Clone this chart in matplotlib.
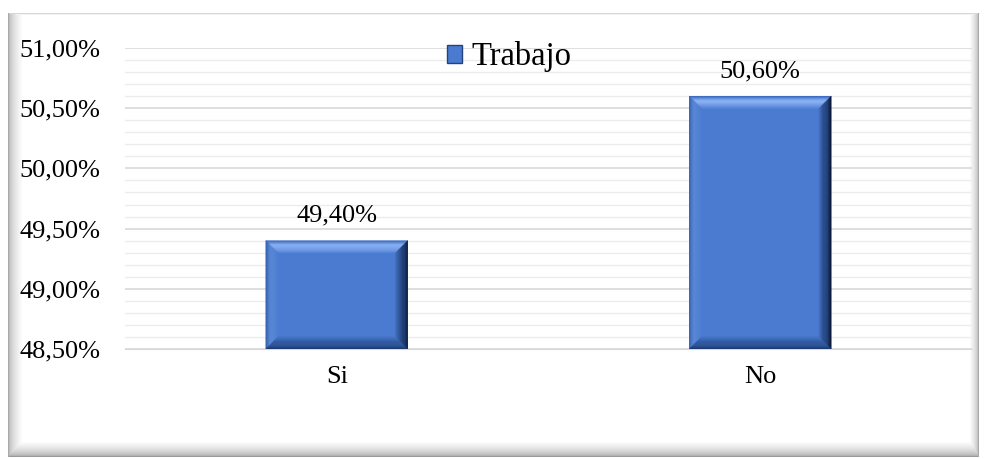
import matplotlib
matplotlib.use("Agg")
import numpy as np
import matplotlib.pyplot as plt
from matplotlib.patches import Polygon
from matplotlib.ticker import MultipleLocator, FuncFormatter
from matplotlib.colors import to_rgb

categories = ["Si", "No"]
values = [49.40, 50.60]
legend_label = "Trabajo"

W, H = 984, 459
fig = plt.figure(figsize=(W/100, H/100), dpi=100)
fig.patch.set_facecolor("white")

# ---- beveled outer frame as background image ----
yy, xx = np.mgrid[0:H, 0:W].astype(float)
x0f, x1f, y0f, y1f = 8.0, 978.0, 13.0, 456.0
wl, wr, wt, wb = 14.0, 9.0, 2.0, 15.0
dl = (xx - x0f) / wl
dr = (x1f - xx) / wr
dt = (yy - y0f) / wt
db = (y1f - yy) / wb
stack = np.stack([dl, dr, dt, db])
side = np.argmin(stack, axis=0)
t = np.clip(np.min(stack, axis=0), 0, 1)
base = np.array([0.66, 0.66, 0.84, 0.60])[side]
shade = base + (1 - base) * np.sqrt(t)
inside = (xx >= x0f) & (xx <= x1f) & (yy >= y0f) & (yy <= y1f)
img = np.where(inside, shade, 1.0)
rgb = np.dstack([img, img, img])
fig.figimage(rgb, xo=0, yo=0, origin="upper", zorder=-30)

ax = fig.add_axes([125/W, 1 - 349/H, (972 - 125)/W, (349 - 48)/H])
ax.set_facecolor("none")
ax.set_ylim(48.5, 51.0)
ax.set_xlim(-0.5, 1.5)
ax.yaxis.set_major_locator(MultipleLocator(0.5))
ax.yaxis.set_minor_locator(MultipleLocator(0.1))
ax.yaxis.set_major_formatter(FuncFormatter(lambda v, p: f"{v:.2f}".replace(".", ",") + "%"))
ax.grid(True, which="major", axis="y", color="#d9d9d9", lw=1.2, zorder=0)
ax.grid(True, which="minor", axis="y", color="#ececec", lw=1.0, zorder=0)
ax.set_axisbelow(True)
for s in ["top", "right", "left"]:
    ax.spines[s].set_visible(False)
ax.spines["bottom"].set_color("#d9d9d9")
ax.tick_params(axis="both", which="both", length=0)
ax.tick_params(axis="y", labelsize=19, pad=18)
ax.tick_params(axis="x", labelsize=19, pad=12)

x = list(range(len(categories)))
bars = ax.bar(x, [v - 48.5 for v in values], bottom=48.5, width=0.335,
              color="#4a7bd0", edgecolor="none", zorder=2, label=legend_label)
ax.set_xticks(x)
ax.set_xticklabels(categories)
for lab in ax.get_yticklabels() + ax.get_xticklabels():
    lab.set_fontfamily("Liberation Serif")

def mix(c1, c2, f):
    a, b = np.array(to_rgb(c1)), np.array(to_rgb(c2))
    return tuple(a + (b - a) * f)

fig.canvas.draw()
inv = ax.transData.inverted()
bev = 14.0
n = 12
face = "#4a7bd0"
edge_cols = {"top": "#3d6bbf", "left": "#3765b4", "right": "#0c1a36", "bottom": "#1d3a70"}
mid_cols = {"top": "#8cb4f6", "left": "#5a88d6", "right": "#213f78", "bottom": "#2d5498"}
for b, v in zip(bars, values):
    bx0, by0 = b.get_x(), b.get_y()
    bx1, by1 = bx0 + b.get_width(), by0 + b.get_height()
    (px0, py0) = ax.transData.transform((bx0, by0))
    (px1, py1) = ax.transData.transform((bx1, by1))
    def d(pts):
        return [inv.transform(p) for p in pts]
    for k in range(n):
        a_ = bev * k / n
        c_ = bev * (k + 1) / n
        f = k / (n - 1)
        quads = {
            "top": [(px0 + a_, py1 - a_), (px1 - a_, py1 - a_), (px1 - c_, py1 - c_), (px0 + c_, py1 - c_)],
            "left": [(px0 + a_, py0 + a_), (px0 + a_, py1 - a_), (px0 + c_, py1 - c_), (px0 + c_, py0 + c_)],
            "right": [(px1 - a_, py0 + a_), (px1 - a_, py1 - a_), (px1 - c_, py1 - c_), (px1 - c_, py0 + c_)],
            "bottom": [(px0 + a_, py0 + a_), (px1 - a_, py0 + a_), (px1 - c_, py0 + c_), (px0 + c_, py0 + c_)],
        }
        for sname, q in quads.items():
            if f < 0.3:
                col = mix(edge_cols[sname], mid_cols[sname], f / 0.3)
            else:
                col = mix(mid_cols[sname], face, ((f - 0.3) / 0.7) ** 1.5)
            ax.add_patch(Polygon(d(q), closed=True, facecolor=col, edgecolor=col,
                                 lw=0.3, zorder=3))
    ax.annotate(f"{v:.2f}".replace(".", ",") + "%", ((bx0 + bx1) / 2, by1),
                xytext=(0, 10), textcoords="offset points", ha="center", va="bottom",
                fontsize=19, fontfamily="Liberation Serif", zorder=4)

leg = ax.legend(loc="center left", bbox_to_anchor=((447 - 125) / 847, (349 - 57) / 301),
                frameon=False, fontsize=23.5,
                handlelength=0.46, handleheight=0.46, handletextpad=0.3,
                borderaxespad=0, borderpad=0)
for txt in leg.get_texts():
    txt.set_fontfamily("Liberation Serif")
    txt.set_fontsize(23.5)
for h in leg.legend_handles:
    h.set_edgecolor("#24427c")
    h.set_linewidth(1.0)

fig.savefig("out.png", dpi=100)
